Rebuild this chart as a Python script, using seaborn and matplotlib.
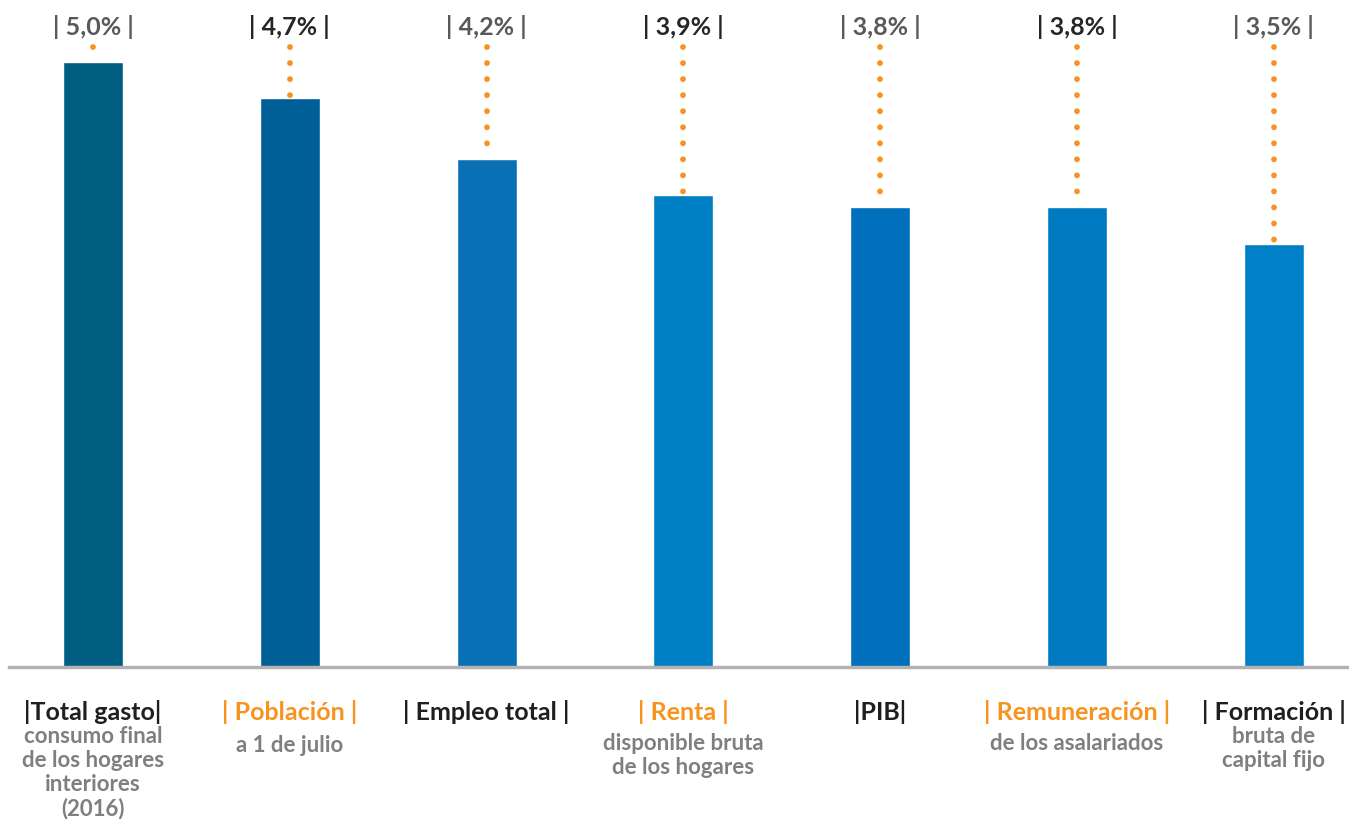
import matplotlib
matplotlib.use("Agg")
import matplotlib.pyplot as plt
import seaborn as sns
import pandas as pd

categorias = ["Total gasto", "Población", "Empleo total", "Renta", "PIB",
              "Remuneración", "Formación"]
valores = [5.0, 4.7, 4.2, 3.9, 3.8, 3.8, 3.5]
etiquetas_valor = ["| 5,0% |", "| 4,7% |", "| 4,2% |", "| 3,9% |", "| 3,8% |",
                   "| 3,8% |", "| 3,5% |"]
titulos = ["|Total gasto|", "| Población |", "| Empleo total |", "| Renta |",
           "|PIB|", "| Remuneración |", "| Formación |"]
subtitulos = ["consumo final\nde los hogares\ninteriores\n(2016)",
              "a 1 de julio", "", "disponible bruta\nde los hogares", "",
              "de los asalariados", "bruta de\ncapital fijo"]

colores_barra = ["#005e82", "#005f96", "#0a70b5", "#0080c4", "#006fbc",
                 "#007bc2", "#0080c6"]
color_valor = ["#595959", "#262626", "#595959", "#262626", "#595959",
               "#262626", "#595959"]
color_titulo = ["#1f1f1f", "#f7931e", "#1f1f1f", "#f7931e", "#1f1f1f",
                "#f7931e", "#1f1f1f"]
sub_y = [737, 746, 744, 744, 744, 744, 737]  # pixel rows (layout)

sns.set_style("white")
plt.rcParams["font.family"] = ["Lato", "DejaVu Sans"]

W, H = 1349, 819
fig = plt.figure(figsize=(W / 100, H / 100), dpi=100)
ax_left, ax_right = 9, 1349
ax_bottom, ax_top = 667, 10
ax = fig.add_axes([ax_left / W, (H - ax_bottom) / H,
                   (ax_right - ax_left) / W, (ax_bottom - ax_top) / H])

df = pd.DataFrame({"cat": categorias, "val": valores})
sns.barplot(data=df, x="cat", y="val", hue="cat", palette=colores_barra,
            width=0.305, legend=False, ax=ax, saturation=1)

px = 121.0  # px per unit
ymax = (ax_bottom - ax_top) / px
ax.set_ylim(0, ymax)
x0 = 93
spacing = 196.8
ax.set_xlim((ax_left - x0) / spacing, (ax_right - x0) / spacing)

for s in ["top", "right", "left"]:
    ax.spines[s].set_visible(False)
ax.spines["bottom"].set_color("#b3b3b3")
ax.spines["bottom"].set_linewidth(2.5)
ax.set_xticks([])
ax.set_yticks([])
ax.set_xlabel("")
ax.set_ylabel("")

def ypix(p):
    return (ax_bottom - p) / px

top_dot = ypix(47)
for i, v in enumerate(valores):
    ax.plot([i, i], [top_dot, v + 0.02], color="#f7931e", lw=4.2,
            linestyle=(0, (0.01, 2.74)), solid_capstyle="round",
            dash_capstyle="round", zorder=1)
    ax.text(i, ypix(27), etiquetas_valor[i], ha="center", va="center",
            fontsize=18, fontweight="bold", color=color_valor[i])
    ax.text(i, ypix(712), titulos[i], ha="center", va="center",
            fontsize=18, fontweight="bold", color=color_titulo[i],
            clip_on=False)
    if subtitulos[i]:
        ax.text(i, ypix(sub_y[i] - 11), subtitulos[i], ha="center", va="top",
                fontsize=16, fontweight="bold", color="#7f7f7f",
                linespacing=1.17, clip_on=False)

fig.savefig("out.png", dpi=100, facecolor="white")
